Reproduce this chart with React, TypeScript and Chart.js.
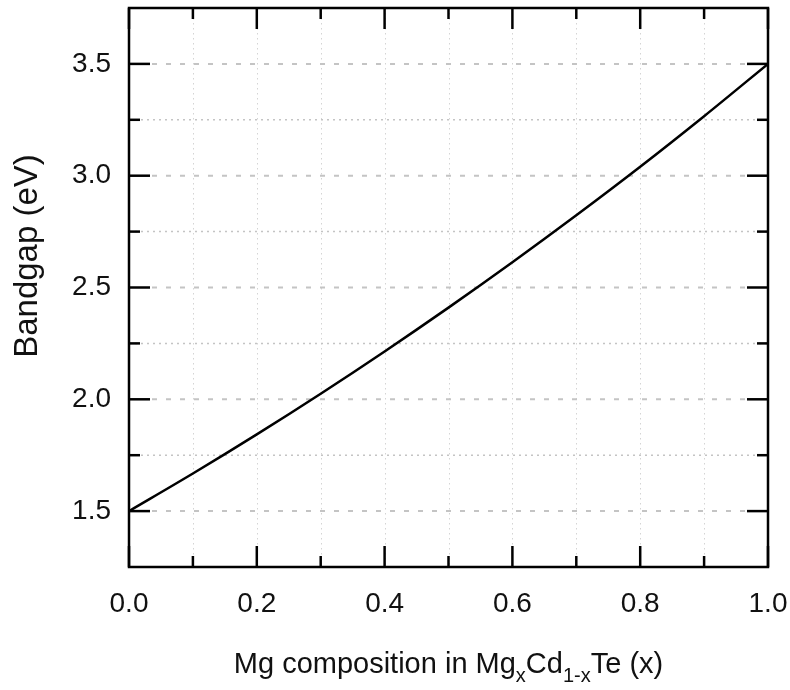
import React, { useEffect, useRef } from "react";
import { Chart, registerables } from "chart.js";

Chart.register(...registerables);

// ---- data ----
const composition = [0, 0.1, 0.2, 0.3, 0.4, 0.5, 0.6, 0.7, 0.8, 0.9, 1.0];
const bandgap = [1.5, 1.668, 1.843, 2.025, 2.214, 2.41, 2.613, 2.823, 3.04, 3.266, 3.5];

const xMajorTicks = [0, 0.2, 0.4, 0.6, 0.8, 1.0];
const xMinorTicks = [0.1, 0.3, 0.5, 0.7, 0.9];
const xGridLines = [0.1, 0.2, 0.3, 0.4, 0.5, 0.6, 0.7, 0.8, 0.9];
const yMajorTicks = [1.5, 2.0, 2.5, 3.0, 3.5];
const yMinorTicks = [1.75, 2.25, 2.75, 3.25];

const xTitleParts: [string, boolean][] = [
  ["Mg composition in Mg", false],
  ["x", true],
  ["Cd", false],
  ["1-x", true],
  ["Te (x)", false],
];
const yTitle = "Bandgap (eV)";

const FONT = "'Liberation Sans', Arial, sans-serif";

const framePlugin = {
  id: "framePlugin",
  beforeDatasetsDraw(chart: any) {
    const { ctx, chartArea: a, scales } = chart;
    const xs = scales.x;
    const ys = scales.y;
    ctx.save();
    ctx.strokeStyle = "#d4d4d4";
    ctx.lineWidth = 1;
    ctx.setLineDash([1.5, 3.5]);
    for (const v of xGridLines) {
      const px = Math.round(xs.getPixelForValue(v)) + 0.5;
      ctx.beginPath();
      ctx.moveTo(px, a.top);
      ctx.lineTo(px, a.bottom);
      ctx.stroke();
    }
    ctx.strokeStyle = "#c4c4c4";
    ctx.lineWidth = 1.5;
    ctx.setLineDash([2, 4]);
    for (const v of yMinorTicks) {
      const py = ys.getPixelForValue(v);
      ctx.beginPath();
      ctx.moveTo(a.left, py);
      ctx.lineTo(a.right, py);
      ctx.stroke();
    }
    ctx.strokeStyle = "#c4c4c4";
    ctx.lineWidth = 2;
    ctx.setLineDash([5, 9]);
    ctx.lineDashOffset = -2;
    for (const v of yMajorTicks) {
      const py = ys.getPixelForValue(v);
      ctx.beginPath();
      ctx.moveTo(a.left + 21, py);
      ctx.lineTo(a.right - 21, py);
      ctx.stroke();
    }
    ctx.restore();
  },
  afterDatasetsDraw(chart: any) {
    const { ctx, chartArea: a, scales } = chart;
    const xs = scales.x;
    const ys = scales.y;
    ctx.save();
    ctx.strokeStyle = "#000";
    ctx.lineWidth = 2.5;
    ctx.setLineDash([]);
    ctx.strokeRect(a.left, a.top, a.right - a.left, a.bottom - a.top);
    const tick = (x1: number, y1: number, x2: number, y2: number) => {
      ctx.beginPath();
      ctx.moveTo(x1, y1);
      ctx.lineTo(x2, y2);
      ctx.stroke();
    };
    for (const v of yMajorTicks) {
      const py = ys.getPixelForValue(v);
      tick(a.left, py, a.left + 21, py);
      tick(a.right, py, a.right - 21, py);
    }
    for (const v of yMinorTicks) {
      const py = ys.getPixelForValue(v);
      tick(a.left, py, a.left + 11, py);
      tick(a.right, py, a.right - 11, py);
    }
    for (const v of xMajorTicks) {
      const px = xs.getPixelForValue(v);
      tick(px, a.bottom, px, a.bottom - 21);
      tick(px, a.top, px, a.top + 21);
    }
    for (const v of xMinorTicks) {
      const px = xs.getPixelForValue(v);
      tick(px, a.bottom, px, a.bottom - 11);
      tick(px, a.top, px, a.top + 11);
    }
    ctx.restore();
  },
  afterDraw(chart: any) {
    const { ctx, chartArea: a } = chart;
    ctx.save();
    ctx.fillStyle = "#111";
    const main = 29;
    const sub = 20;
    let total = 0;
    for (const [t, isSub] of xTitleParts) {
      ctx.font = `${isSub ? sub : main}px ${FONT}`;
      total += ctx.measureText(t).width;
    }
    let x = (a.left + a.right) / 2 - total / 2;
    const base = 673;
    ctx.textBaseline = "alphabetic";
    ctx.textAlign = "left";
    for (const [t, isSub] of xTitleParts) {
      ctx.font = `${isSub ? sub : main}px ${FONT}`;
      ctx.fillText(t, x, isSub ? base + 9 : base);
      x += ctx.measureText(t).width;
    }
    ctx.font = `33px ${FONT}`;
    ctx.translate(37, 256);
    ctx.rotate(-Math.PI / 2);
    ctx.textAlign = "center";
    ctx.textBaseline = "alphabetic";
    ctx.fillText(yTitle, 0, 0);
    ctx.restore();
  },
};

const zeroPad = (s: any) => {
  s.paddingTop = 0;
  s.paddingBottom = 0;
  s.paddingLeft = 0;
  s.paddingRight = 0;
};

export default function App() {
  const ref = useRef<HTMLCanvasElement | null>(null);
  useEffect(() => {
    if (!ref.current) return;
    const chart = new Chart(ref.current, {
      type: "line",
      data: {
        datasets: [
          {
            data: composition.map((c, i) => ({ x: c, y: bandgap[i] })),
            borderColor: "#000",
            borderWidth: 2.5,
            pointRadius: 0,
            cubicInterpolationMode: "monotone",
            fill: false,
          },
        ],
      },
      options: {
        animation: false,
        responsive: false,
        devicePixelRatio: 1,
        layout: { padding: { top: 8, right: 22, left: 0, bottom: 0 } },
        plugins: { legend: { display: false }, tooltip: { enabled: false } },
        scales: {
          x: {
            type: "linear",
            min: 0,
            max: 1,
            grid: { display: false, drawTicks: false },
            border: { display: false },
            afterFit: (s: any) => {
              s.height = 123;
              zeroPad(s);
            },
            ticks: {
              stepSize: 0.1,
              autoSkip: false,
              maxRotation: 0,
              padding: 20,
              color: "#111",
              font: { family: FONT, size: 28 },
              callback: (v: any) => {
                const r = Math.round(Number(v) * 10);
                return r % 2 === 0 ? (r / 10).toFixed(1) : "";
              },
            },
          },
          y: {
            type: "linear",
            min: 1.25,
            max: 3.75,
            grid: { display: false, drawTicks: false },
            border: { display: false },
            afterFit: (s: any) => {
              s.width = 129;
              zeroPad(s);
            },
            ticks: {
              stepSize: 0.25,
              autoSkip: false,
              padding: 18,
              color: "#111",
              font: { family: FONT, size: 28 },
              callback: (v: any) => {
                const r = Math.round(Number(v) * 4);
                if (r % 2 !== 0) return "";
                return (r / 4).toFixed(1);
              },
            },
          },
        },
      },
      plugins: [framePlugin],
    } as any);
    return () => chart.destroy();
  }, []);
  return (
    <div style={{ position: "absolute", left: 0, top: 0, width: 790, height: 690, background: "#fff" }}>
      <canvas ref={ref} width={790} height={690} />
    </div>
  );
}
